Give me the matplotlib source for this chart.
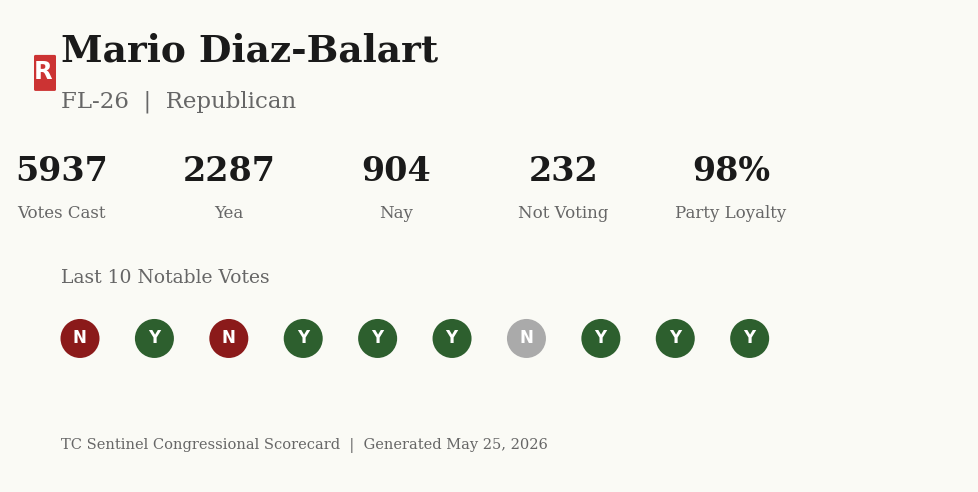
import matplotlib
matplotlib.use('Agg')
import matplotlib.pyplot as plt
from matplotlib.patches import Circle, FancyBboxPatch

name = 'Mario Diaz-Balart'
subtitle = 'FL-26  |  Republican'
party = 'R'
stat_values = ['5937', '2287', '904', '232', '98%']
stat_labels = ['Votes Cast', 'Yea', 'Nay', 'Not Voting', 'Party Loyalty']
votes = ['N', 'Y', 'N', 'Y', 'Y', 'Y', 'N', 'Y', 'Y', 'Y']
vote_kinds = ['against', 'for', 'against', 'for', 'for', 'for', 'absent', 'for', 'for', 'for']
kind_colors = {'for': '#2d5f2e', 'against': '#8b1a1a', 'absent': '#aaaaaa'}
section_title = 'Last 10 Notable Votes'
footer = 'TC Sentinel Congressional Scorecard  |  Generated May 25, 2026'

BG = '#fafaf5'
W, H = 978, 492

fig = plt.figure(figsize=((W + 0.1) / 100, (H + 0.1) / 100), dpi=100, facecolor=BG)
ax = fig.add_axes([0, 0, 1, 1])
ax.set_xlim(0, W)
ax.set_ylim(H, 0)
ax.axis('off')

# header
ax.add_patch(FancyBboxPatch((35, 56), 20, 34, boxstyle='round,pad=1,rounding_size=1.5',
                            color='#cc3333', lw=0))
ax.text(43.5, 72, party, color='white', fontsize=17.5, fontweight='bold',
        family='DejaVu Sans', ha='center', va='center')
ax.text(61, 51, name, color='#1a1a1a', fontsize=27, fontweight='bold',
        family='DejaVu Serif', ha='left', va='center')
ax.text(61, 102, subtitle, color='#666666', fontsize=16.5,
        family='DejaVu Serif', ha='left', va='center')

# stats row
for i in range(len(stat_values)):
    x = 61.8 + i * 167.25
    ax.text(x, 171, stat_values[i], color='#1a1a1a', fontsize=24, fontweight='bold',
            family='DejaVu Serif', ha='center', va='center')
    ax.text(x, 213, stat_labels[i], color='#666666', fontsize=12,
            family='DejaVu Serif', ha='center', va='center')

ax.text(61, 278, section_title, color='#666666', fontsize=13.5,
        family='DejaVu Serif', ha='left', va='center')

# vote dots
for i in range(len(votes)):
    x = 80 + i * 74.4
    ax.add_patch(Circle((x, 338.5), 19.5, color=kind_colors[vote_kinds[i]], lw=0))
    ax.text(x - 0.4, 338, votes[i], color='white', fontsize=12, fontweight='bold',
            family='DejaVu Sans', ha='center', va='center')

ax.text(61, 445, footer, color='#666666', fontsize=10.5,
        family='DejaVu Serif', ha='left', va='center')

fig.savefig('out.png', dpi=100, facecolor=BG)
